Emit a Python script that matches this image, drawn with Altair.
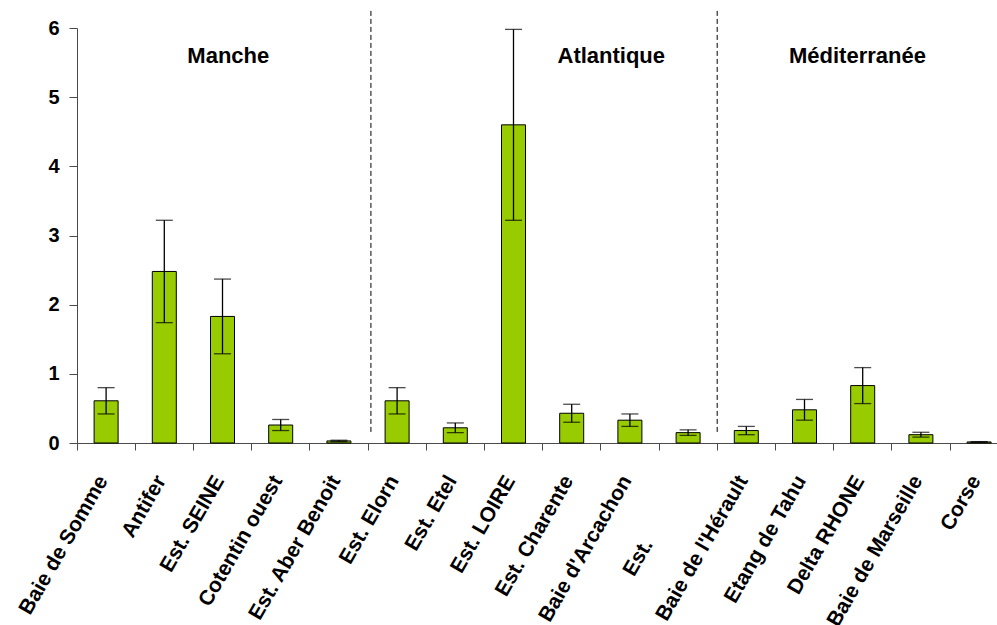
import math
import altair as alt
import pandas as pd

# Sites, in coastal order, with mean values and error half-widths
sites = ["Baie de Somme", "Antifer", "Est. SEINE", "Cotentin ouest", "Est. Aber Benoit",
         "Est. Elorn", "Est. Etel", "Est. LOIRE", "Est. Charente", "Baie d'Arcachon",
         "Est.", "Baie de l'Hérault", "Etang de Tahu", "Delta RHONE", "Baie de Marseille",
         "Corse"]
means = [0.61, 2.48, 1.83, 0.26, 0.03, 0.61, 0.22, 4.60, 0.43, 0.33,
         0.15, 0.18, 0.48, 0.83, 0.12, 0.015]
errors = [0.19, 0.74, 0.54, 0.08, 0.01, 0.19, 0.07, 1.38, 0.13, 0.09,
          0.04, 0.06, 0.15, 0.26, 0.035, 0.005]

# Coastal regions: names, label anchors (in site units) and dividers between them
regions = ["Manche", "Atlantique", "Méditerranée"]
region_label_pos = [2.6, 9.18, 13.41]
region_label_y = 5.6
dividers = [5.05, 11.0]
divider_span = [0.16, 6.28]

# The short "Est." label sits further down its slant than the other labels
short_label = "Est."
short_label_shift = 74

FONT = "Liberation Sans"
AXIS_GREY = "#4a4a4a"
STEP = 58.2
n = len(sites)
span = STEP * n

LABEL_ANGLE = 300
LABEL_SIZE = 21
TICK_SIZE = 7
LABEL_PAD = 27
LABEL_OFFSET = -3

df = pd.DataFrame({"site": sites, "mean": means, "err": errors})
df["lo"] = df["mean"] - df["err"]
df["hi"] = df["mean"] + df["err"]

x_scale = alt.Scale(domain=sites, range=[0, span], paddingInner=0, paddingOuter=0)
y_scale = alt.Scale(domain=[0, 6], nice=False)

x_axis = alt.Axis(
    title=None, labelAngle=LABEL_ANGLE, labelAlign="right", labelBaseline="middle",
    labelFont=FONT, labelFontSize=LABEL_SIZE, labelFontWeight="bold", labelColor="black",
    labelPadding=LABEL_PAD, labelOffset=LABEL_OFFSET, labelLimit=400, labelOverlap=False,
    labelExpr=f"datum.value == '{short_label}' ? '' : datum.label",
    tickSize=TICK_SIZE, tickColor=AXIS_GREY, domainColor=AXIS_GREY, bandPosition=0,
)
y_axis = alt.Axis(
    title=None, values=[0, 1, 2, 3, 4, 5, 6], format="d", grid=False,
    labelFont=FONT, labelFontSize=20, labelFontWeight="bold", labelColor="black",
    labelPadding=10, tickSize=8, tickColor=AXIS_GREY, domainColor=AXIS_GREY,
)

base = alt.Chart(df)
x_enc = alt.X("site:N", sort=sites, scale=x_scale)

bars = base.mark_bar(width=24, fill="#99CC00", stroke="black", strokeWidth=1).encode(
    x=alt.X("site:N", sort=sites, scale=x_scale, axis=x_axis),
    y=alt.Y("mean:Q", scale=y_scale, axis=y_axis),
)
whiskers = base.mark_rule(color="black", strokeWidth=1.3).encode(
    x=x_enc, y=alt.Y("lo:Q", scale=y_scale), y2="hi:Q",
)
caps_lo = base.mark_tick(color="black", size=17, thickness=1.3).encode(
    x=x_enc, y=alt.Y("lo:Q", scale=y_scale),
)
caps_hi = base.mark_tick(color="black", size=17, thickness=1.3).encode(
    x=x_enc, y=alt.Y("hi:Q", scale=y_scale),
)

# Text-frame offsets: drop below the axis like the other labels, then slide back along the slant
theta = math.radians(LABEL_ANGLE)
drop = TICK_SIZE + LABEL_PAD
dx = math.cos(theta) * LABEL_OFFSET + math.sin(theta) * drop - short_label_shift
dy = -math.sin(theta) * LABEL_OFFSET + math.cos(theta) * drop
short_text = base.transform_filter(alt.datum.site == short_label).mark_text(
    font=FONT, fontSize=LABEL_SIZE, fontWeight="bold", color="black",
    align="right", baseline="middle", angle=LABEL_ANGLE, dx=dx, dy=dy,
).encode(
    x=x_enc, y=alt.datum(0), text="site:N",
)
data_layer = alt.layer(bars, whiskers, caps_lo, caps_hi, short_text)

# Region annotations on a continuous scale spanning the same range as the sites
pos_scale = alt.Scale(domain=[0, n], range=[0, span], nice=False, zero=False)
div_df = pd.DataFrame({"pos": dividers})
lab_df = pd.DataFrame({"pos": region_label_pos, "region": regions})

divider_rules = alt.Chart(div_df).mark_rule(color="black", strokeWidth=1, strokeDash=[5, 3]).encode(
    x=alt.X("pos:Q", scale=pos_scale, axis=None),
    y=alt.datum(divider_span[0]),
    y2=alt.datum(divider_span[1]),
)
region_text = alt.Chart(lab_df).mark_text(
    font=FONT, fontSize=22, fontWeight="bold", color="black", align="center", baseline="middle"
).encode(
    x=alt.X("pos:Q", scale=pos_scale, axis=None),
    y=alt.datum(region_label_y),
    text="region:N",
)
annotations = alt.layer(divider_rules, region_text)

chart = (
    alt.layer(data_layer, annotations)
    .resolve_scale(x="independent")
    .properties(
        width=920, height=415,
        autosize=alt.AutoSizeParams(type="none"),
        padding={"left": 77, "top": 28, "right": 0, "bottom": 182},
        background="white",
    )
    .configure_view(strokeWidth=0)
)

chart.save("out.html", embed_options={"renderer": "svg", "actions": False})
